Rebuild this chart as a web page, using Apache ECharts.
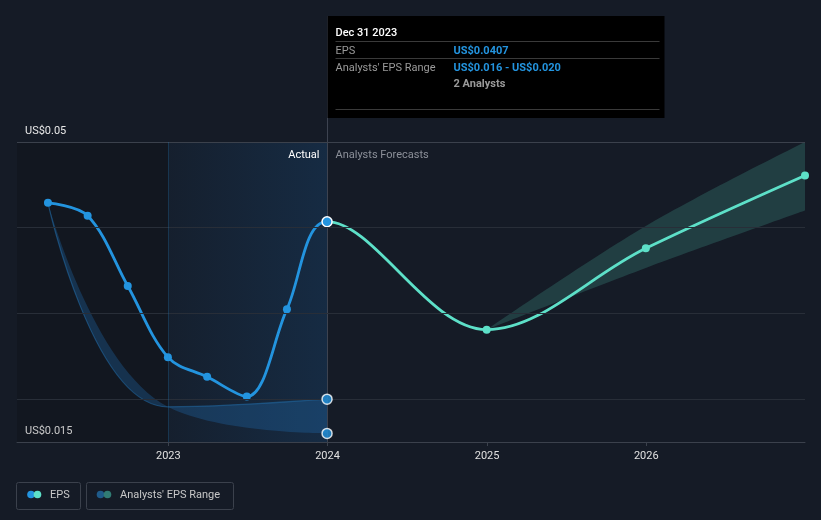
<!DOCTYPE html>
<html>
<head>
<meta charset="utf-8">
<script src="https://cdn.jsdelivr.net/npm/echarts@6/dist/echarts.min.js"></script>
<style>
html,body{margin:0;padding:0;background:#151b26;}
#chart{width:821px;height:520px;}
</style>
</head>
<body>
<div id="chart"></div>
<script>
// ---- data ----
const actualDates = ['2022-03-31','2022-06-30','2022-09-30','2022-12-31','2023-03-31','2023-06-30','2023-09-30','2023-12-31'];
const actualEps = [0.0429,0.0414,0.0332,0.0249,0.0226,0.0203,0.0305,0.0407];
const forecastDates = ['2024-12-31','2025-12-31','2026-12-31'];
const forecastEps = [0.0281,0.0376,0.0461];
const pastRangeDates = ['2022-03-31','2022-12-31','2023-12-31'];
const pastRangeLow = [0.0429,0.0191,0.0160];
const pastRangeHigh = [0.0429,0.0191,0.0200];
const fcRangeDates = ['2024-12-31','2025-12-31','2026-12-31'];
const fcRangeLow = [0.0281,0.0353,0.0420];
const fcRangeHigh = [0.0281,0.0402,0.0500];
const yTicks = [0.015, 0.05];
const gridValues = [0.02, 0.03, 0.04];
const xMin = '2022-01-19';
const xMax = '2026-12-31';
const tipDate = '2023-12-31';
const tipTitle = 'Dec 31 2023';
const tipEps = 'US$0.0407';
const tipRange = 'US$0.016 - US$0.020';
const tipAnalysts = '2 Analysts';

const BLUE = '#2394df';
const TEAL = '#5de0c8';
const FONT = 'Roboto, "Noto Sans", sans-serif';
const GRID = {left: 17, right: 16, top: 142, bottom: 78};
const SMOOTH = 0.35;

const zip = (d, v) => d.map((x, i) => [x, v[i]]);
const diff = (h, l) => h.map((x, i) => +(x - l[i]).toFixed(6));

const epsData = zip(actualDates, actualEps).map((p, i, a) =>
  i === a.length - 1
    ? {value: p, symbolSize: 10, itemStyle: {color: BLUE, borderColor: '#ffffff', borderWidth: 1.5}}
    : {value: p, itemStyle: {color: BLUE}})
  .concat(zip(forecastDates, forecastEps).map(p => ({value: p, itemStyle: {color: TEAL}})));

const chart = echarts.init(document.getElementById('chart'), null, {renderer: 'canvas'});

const option = {
  backgroundColor: '#151b26',
  animation: false,
  textStyle: {fontFamily: FONT},
  grid: Object.assign({containLabel: false}, GRID),
  xAxis: {
    type: 'time',
    min: xMin,
    max: xMax,
    splitLine: {show: false},
    axisLine: {lineStyle: {color: '#3b414c', width: 1}},
    axisTick: {show: true, length: 4, lineStyle: {color: '#3b414c'}},
    minorTick: {show: false},
    axisLabel: {color: '#e0e0e0', fontSize: 11, fontFamily: FONT, margin: 9, formatter: '{yyyy}', showMinLabel: false},
    splitNumber: 5
  },
  yAxis: {
    type: 'value',
    min: yTicks[0],
    max: yTicks[1],
    interval: +(yTicks[1] - yTicks[0]).toFixed(6),
    axisLine: {show: false},
    axisTick: {show: false},
    splitLine: {show: false},
    axisLabel: {
      inside: true,
      margin: 8,
      color: '#e8e8e8',
      fontSize: 11,
      fontFamily: FONT,
      verticalAlign: 'bottom',
      padding: [0, 0, 5, 0],
      formatter: v => 'US$' + parseFloat((+v).toFixed(3))
    }
  },
  series: [
    // 0: backgrounds + gridlines
    {
      type: 'line', data: [], silent: true,
      markArea: {
        silent: true,
        data: [
          [{xAxis: xMin, itemStyle: {color: 'rgba(0,0,0,0.14)'}}, {xAxis: '2023-01-01'}],
          [{xAxis: '2023-01-01', itemStyle: {color: {type: 'linear', x: 0, y: 0, x2: 1, y2: 0,
            colorStops: [{offset: 0, color: 'rgba(25,100,170,0.06)'}, {offset: 1, color: 'rgba(25,100,170,0.22)'}]}}},
           {xAxis: tipDate}]
        ]
      },
      markLine: {
        silent: true, symbol: 'none', label: {show: false},
        data: gridValues.map(v => ({yAxis: v, lineStyle: {color: '#282e38', width: 1, type: 'solid'}}))
          .concat([{yAxis: yTicks[1], lineStyle: {color: '#3b414c', width: 1, type: 'solid'}},
                   {xAxis: '2023-01-01', lineStyle: {color: 'rgba(35,130,200,0.25)', width: 1, type: 'solid'}}])
      }
    },
    // 1,2: past analyst range
    {
      name: 'pastLow', type: 'line', stack: 'past', data: zip(pastRangeDates, pastRangeLow),
      smooth: 0.45, showSymbol: false, lineStyle: {opacity: 0}, silent: true
    },
    {
      name: "Analysts' EPS Range", type: 'line', stack: 'past', data: zip(pastRangeDates, diff(pastRangeHigh, pastRangeLow)),
      smooth: 0.45, showSymbol: false, silent: true,
      lineStyle: {width: 1.2, color: 'rgba(35,110,170,0.55)'},
      areaStyle: {color: 'rgba(30,110,180,0.45)'}
    },
    // 3,4: forecast analyst range
    {
      name: 'fcLow', type: 'line', stack: 'fc', data: zip(fcRangeDates, fcRangeLow),
      smooth: SMOOTH, showSymbol: false, lineStyle: {opacity: 0}, silent: true
    },
    {
      name: 'fcRange', type: 'line', stack: 'fc', data: zip(fcRangeDates, diff(fcRangeHigh, fcRangeLow)),
      smooth: SMOOTH, showSymbol: false, silent: true,
      lineStyle: {opacity: 0},
      areaStyle: {color: 'rgba(93,224,200,0.25)'}
    },
    // 5: EPS (actual + forecast)
    {
      name: 'EPS', type: 'line', data: epsData,
      smooth: SMOOTH, symbol: 'circle', symbolSize: 8,
      lineStyle: {width: 2.8, color: BLUE}, z: 4
    },
    // 6: range endpoints at tooltip date
    {
      type: 'scatter', data: [[tipDate, pastRangeLow[2]], [tipDate, pastRangeHigh[2]]],
      symbolSize: 10, itemStyle: {color: BLUE, borderColor: '#ffffff', borderWidth: 1.5}, z: 5
    }
  ]
};
chart.setOption(option);

// split colour of the EPS line at the "today" date, and overlay tooltip + legend
const pTop = chart.convertToPixel({xAxisIndex: 0, yAxisIndex: 0}, [tipDate, yTicks[1]]);
const pBot = chart.convertToPixel({xAxisIndex: 0, yAxisIndex: 0}, [tipDate, yTicks[0]]);
const W = chart.getWidth();
const gx0 = GRID.left, gx1 = W - GRID.right;
const stop = (pTop[0] - gx0) / (gx1 - gx0);
const tx = Math.round(pTop[0]) + 0.5;
const boxX = tx;
const boxW = 337;
const F = '11px ' + FONT;
const FB = 'bold 11px ' + FONT;
const DY = 1.5;
const txt = (x, y, text, fill, font, align) => ({type: 'text', x: x, y: y + DY, z: 11,
  style: {text: text, fill: fill, font: font, textAlign: align || 'left', textVerticalAlign: 'middle'}});
const hline = (y) => ({type: 'line', z: 11, shape: {x1: boxX + 8, y1: y, x2: boxX + boxW - 5, y2: y}, style: {stroke: '#3a3a3a', lineWidth: 1}});
chart.setOption({
  series: [{}, {}, {}, {}, {}, {
    lineStyle: {color: {type: 'linear', global: true, x: gx0, y: 0, x2: gx1, y2: 0,
      colorStops: [{offset: 0, color: BLUE}, {offset: stop, color: BLUE}, {offset: stop, color: TEAL}, {offset: 1, color: TEAL}]}}
  }, {}],
  graphic: [
    {type: 'line', shape: {x1: tx, y1: 16, x2: tx, y2: pBot[1]}, style: {stroke: '#3d4350', lineWidth: 1}, z: 1, silent: true},
    {type: 'rect', shape: {x: boxX, y: 16, width: boxW, height: 102}, style: {fill: '#000000'}, z: 10},
    txt(boxX + 8, 31.5, tipTitle, '#ffffff', '500 11px ' + FONT),
    hline(41.5),
    txt(boxX + 8, 49.5, 'EPS', '#9a9a9a', F),
    txt(boxX + 126, 49.5, tipEps, BLUE, FB),
    hline(58.5),
    txt(boxX + 8, 66.5, "Analysts' EPS Range", '#9a9a9a', F),
    txt(boxX + 126, 66.5, tipRange, BLUE, FB),
    txt(boxX + 126, 83, tipAnalysts, '#9a9a9a', FB),
    hline(109.5),
    // section labels
    txt(tx - 8, 154, 'Actual', '#ffffff', F, 'right'),
    txt(tx + 8, 154, 'Analysts Forecasts', '#8c9099', F, 'left'),
    // legend
    {type: 'rect', shape: {x: 16.5, y: 482.5, width: 64, height: 27, r: 2}, style: {fill: 'none', stroke: '#3b414c', lineWidth: 1}, z: 11},
    {type: 'circle', shape: {cx: 31, cy: 494.5, r: 3.8}, style: {fill: BLUE}, z: 11},
    {type: 'circle', shape: {cx: 37.5, cy: 494.5, r: 3.8}, style: {fill: TEAL}, z: 12},
    txt(50, 494, 'EPS', '#c8c8c8', F),
    {type: 'rect', shape: {x: 86.5, y: 482.5, width: 147, height: 27, r: 2}, style: {fill: 'none', stroke: '#3b414c', lineWidth: 1}, z: 11},
    {type: 'circle', shape: {cx: 100.5, cy: 494.5, r: 3.8}, style: {fill: '#1f5b8a'}, z: 11},
    {type: 'circle', shape: {cx: 107.5, cy: 494.5, r: 3.8}, style: {fill: '#317c74'}, z: 12},
    txt(120, 494, "Analysts' EPS Range", '#c8c8c8', F)
  ]
});
</script>
</body>
</html>
